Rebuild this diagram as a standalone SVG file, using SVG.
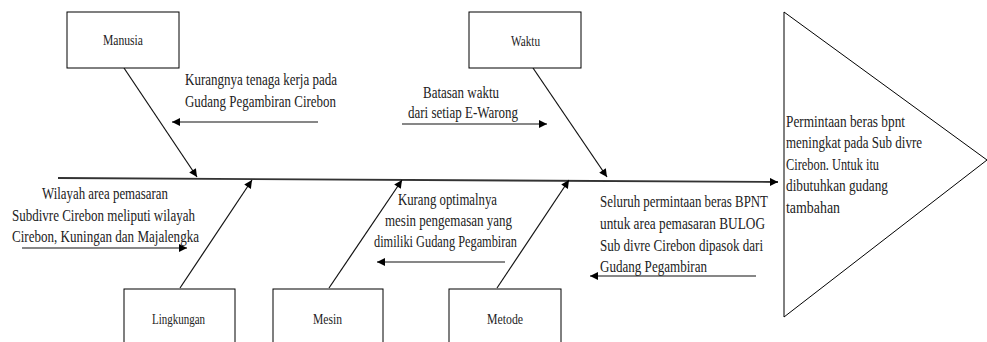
<svg xmlns="http://www.w3.org/2000/svg" width="987" height="342" viewBox="0 0 987 342">
<style>
  .box { fill: #ffffff; stroke: #000000; stroke-width: 1; }
  .lbl { font-family: "Liberation Serif", "DejaVu Serif", serif; font-size: 14px; fill: #222222; text-anchor: middle; }
  .ann { font-family: "Liberation Serif", "DejaVu Serif", serif; font-size: 16.5px; fill: #222222; }
  .bone { stroke: #111111; stroke-width: 1.2; fill: none; marker-end: url(#ah); }
  .spine { stroke: #333333; stroke-width: 1.8; fill: none; marker-end: url(#ah); }
</style>
<defs>
  <marker id="ah" viewBox="0 0 10 10" refX="10" refY="5" markerWidth="10" markerHeight="8" markerUnits="userSpaceOnUse" orient="auto">
    <path d="M0,0 L10,5 L0,10 Z" fill="#000000"/>
  </marker>
</defs>
<rect width="987" height="342" fill="#ffffff"/>

<g id="connectors">
  <line class="spine" x1="58" y1="178" x2="778" y2="182"/>
  <line class="bone" x1="124" y1="68" x2="197" y2="177"/>
  <line class="bone" x1="533" y1="68" x2="607" y2="177"/>
  <line class="bone" x1="180" y1="288" x2="252" y2="180"/>
  <line class="bone" x1="329" y1="288" x2="402" y2="180"/>
  <line class="bone" x1="497" y1="288" x2="569" y2="180"/>
  <line class="bone" x1="318" y1="122" x2="172" y2="122"/>
  <line class="bone" x1="402" y1="124" x2="547" y2="124"/>
  <line class="bone" x1="22" y1="248" x2="187" y2="248"/>
  <line class="bone" x1="505" y1="262" x2="377" y2="262"/>
  <line class="bone" x1="756" y1="276" x2="590" y2="276"/>
</g>

<g id="manusia">
  <rect class="box" x="67" y="12" width="112" height="56"/>
  <text class="lbl" x="123" y="45" textLength="40" lengthAdjust="spacingAndGlyphs">Manusia</text>
</g>
<g id="waktu">
  <rect class="box" x="469" y="12" width="112" height="56"/>
  <text class="lbl" x="525.5" y="46" textLength="29" lengthAdjust="spacingAndGlyphs">Waktu</text>
</g>
<g id="lingkungan">
  <rect class="box" x="124" y="289" width="111" height="70"/>
  <text class="lbl" x="178.5" y="324" textLength="53" lengthAdjust="spacingAndGlyphs">Lingkungan</text>
</g>
<g id="mesin">
  <rect class="box" x="273" y="289" width="110" height="70"/>
  <text class="lbl" x="327.5" y="324" textLength="29" lengthAdjust="spacingAndGlyphs">Mesin</text>
</g>
<g id="metode">
  <rect class="box" x="449" y="289" width="112" height="70"/>
  <text class="lbl" x="505" y="324" textLength="36" lengthAdjust="spacingAndGlyphs">Metode</text>
</g>
<g id="effect">
  <polygon class="box" points="784,12 784,317 987,160"/>
  <text class="ann" x="786" y="127" textLength="119" lengthAdjust="spacingAndGlyphs">Permintaan beras bpnt</text>
  <text class="ann" x="786" y="148" textLength="136" lengthAdjust="spacingAndGlyphs">meningkat pada Sub divre</text>
  <text class="ann" x="786" y="170" textLength="93" lengthAdjust="spacingAndGlyphs">Cirebon. Untuk itu</text>
  <text class="ann" x="786" y="191" textLength="102" lengthAdjust="spacingAndGlyphs">dibutuhkan gudang</text>
  <text class="ann" x="786" y="213" textLength="54" lengthAdjust="spacingAndGlyphs">tambahan</text>
</g>

<g id="cause-manusia">
  <text class="ann" x="185" y="85" textLength="152" lengthAdjust="spacingAndGlyphs">Kurangnya tenaga kerja pada</text>
  <text class="ann" x="185" y="107" textLength="151" lengthAdjust="spacingAndGlyphs">Gudang Pegambiran Cirebon</text>
</g>
<g id="cause-waktu">
  <text class="ann" x="423" y="98" textLength="76" lengthAdjust="spacingAndGlyphs">Batasan waktu</text>
  <text class="ann" x="408" y="118" textLength="110" lengthAdjust="spacingAndGlyphs">dari setiap E-Warong</text>
</g>
<g id="cause-lingkungan">
  <text class="ann" x="42" y="199" textLength="126" lengthAdjust="spacingAndGlyphs">Wilayah area pemasaran</text>
  <text class="ann" x="12" y="221" textLength="183" lengthAdjust="spacingAndGlyphs">Subdivre Cirebon meliputi wilayah</text>
  <text class="ann" x="12" y="242" textLength="187" lengthAdjust="spacingAndGlyphs">Cirebon, Kuningan dan Majalengka</text>
</g>
<g id="cause-mesin">
  <text class="ann" x="398" y="205" textLength="99" lengthAdjust="spacingAndGlyphs">Kurang optimalnya</text>
  <text class="ann" x="385" y="226" textLength="127" lengthAdjust="spacingAndGlyphs">mesin pengemasan yang</text>
  <text class="ann" x="374" y="247" textLength="143" lengthAdjust="spacingAndGlyphs">dimiliki Gudang Pegambiran</text>
</g>
<g id="cause-metode">
  <text class="ann" x="600" y="207" textLength="168" lengthAdjust="spacingAndGlyphs">Seluruh permintaan beras BPNT</text>
  <text class="ann" x="600" y="229" textLength="165" lengthAdjust="spacingAndGlyphs">untuk area pemasaran BULOG</text>
  <text class="ann" x="600" y="251" textLength="163" lengthAdjust="spacingAndGlyphs">Sub divre Cirebon dipasok dari</text>
  <text class="ann" x="600" y="272" textLength="107" lengthAdjust="spacingAndGlyphs">Gudang Pegambiran</text>
</g>
</svg>
